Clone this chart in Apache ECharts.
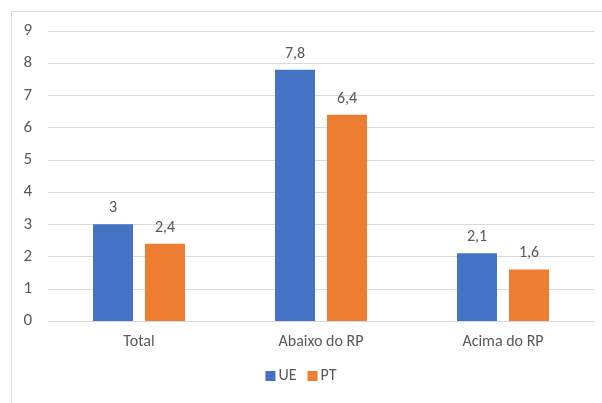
<!DOCTYPE html>
<html>
<head>
<meta charset="utf-8">
<script src="https://cdn.jsdelivr.net/npm/echarts@6/dist/echarts.min.js"></script>
<style>
html,body{margin:0;padding:0;background:#fff;}
#c{width:602px;height:403px;}
</style>
</head>
<body>
<div id="c"></div>
<script>
const categories = ['Total', 'Abaixo do RP', 'Acima do RP'];
const ueValues = [3, 7.8, 2.1];
const ptValues = [2.4, 6.4, 1.6];
const yTicks = [0, 1, 2, 3, 4, 5, 6, 7, 8, 9];

const fmt = p => String(p.value).replace('.', ',');
const font = 'Calibri, Carlito, "Open Sans", sans-serif';
const chart = echarts.init(document.getElementById('c'), null, {renderer: 'canvas'});
chart.setOption({
  animation: false,
  textStyle: {fontFamily: font},
  graphic: [{
    type: 'polyline',
    shape: {points: [[11.5, 403], [11.5, 11.5], [602, 11.5]]},
    style: {stroke: '#d9d9d9', lineWidth: 1, fill: null},
    silent: true
  }],
  grid: {left: 48, right: 8, top: 31, bottom: 82},
  legend: {
    bottom: 14,
    left: 'center',
    itemWidth: 10,
    itemHeight: 10,
    itemGap: 11,
    icon: 'rect',
    textStyle: {color: '#595959', fontSize: 16, fontFamily: font, padding: [0, 0, 0, -2]},
    data: ['UE', 'PT']
  },
  xAxis: {
    type: 'category',
    data: categories,
    axisLine: {lineStyle: {color: '#d9d9d9', width: 1}},
    axisTick: {show: false},
    axisLabel: {color: '#595959', fontSize: 16, margin: 13, fontFamily: font}
  },
  yAxis: {
    type: 'value',
    min: yTicks[0],
    max: yTicks[yTicks.length - 1],
    interval: 1,
    axisLine: {show: false},
    axisTick: {show: false},
    axisLabel: {color: '#595959', fontSize: 17, margin: 16, fontFamily: font},
    splitLine: {lineStyle: {color: '#d9d9d9', width: 1}}
  },
  series: [
    {
      name: 'UE', type: 'bar', data: ueValues,
      barWidth: 40, barGap: '30%',
      itemStyle: {color: '#4472C4'},
      label: {show: true, position: 'top', distance: 8, color: '#595959', fontSize: 16, fontFamily: font, formatter: fmt}
    },
    {
      name: 'PT', type: 'bar', data: ptValues,
      barWidth: 40, barGap: '30%',
      itemStyle: {color: '#ED7D31'},
      label: {show: true, position: 'top', distance: 8, color: '#595959', fontSize: 16, fontFamily: font, formatter: fmt}
    }
  ]
});
</script>
</body>
</html>
